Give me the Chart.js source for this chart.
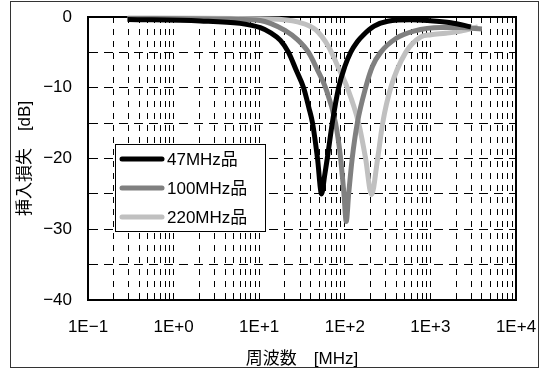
<!DOCTYPE html>
<html>
<head>
<meta charset="utf-8">
<title>挿入損失</title>
<script src="https://cdn.jsdelivr.net/npm/chart.js@4/dist/chart.umd.min.js"></script>
<style>
    body{margin:0;background:#fff;}
    #wrap{width:548px;height:370px;}
</style>
</head>
<body>
<div id="wrap"><canvas id="lossChart" width="548" height="370"></canvas></div>
<script>
// 数据 (从图上读的)
var seriesNames = ["47MHz品", "100MHz品", "220MHz品"];
var seriesColors = ["#000000", "#808080", "#c0c0c0"];

var freq47 = [0.29, 2.05, 6.0, 10.3, 13.5, 17.7, 22, 27, 33, 38, 42, 48, 53.5, 58, 62.4, 71.4, 84.6, 100, 117, 140, 166, 220, 317, 600, 933, 1734, 2972];
var loss47 = [-0.35, -0.55, -0.9, -1.5, -2.2, -3.3, -5, -7.5, -10, -12.8, -15, -20, -25, -22.5, -20, -15, -10, -7.0, -5, -3.5, -2.5, -1.3, -0.6, -0.4, -0.5, -0.8, -1.4];

var freq100 = [0.29, 4.6, 10.3, 13.5, 20, 28, 37.7, 48, 59.6, 78, 89.4, 97.7, 104, 111, 122, 140, 175, 210, 262, 400, 640, 1324, 2270, 4000];
var loss100 = [-0.2, -0.3, -0.5, -0.9, -1.9, -3.2, -5, -7.5, -10, -15, -20, -25, -28.9, -25, -20, -15, -10, -7, -5, -3, -2, -1.5, -1.5, -1.7];

var freq220 = [0.29, 13.5, 28, 45.5, 64.6, 84.6, 107, 145, 175, 205, 242, 277, 344, 515, 772, 1012, 1514, 2270, 3590];
var loss220 = [-0.15, -0.3, -0.7, -1.8, -4.2, -7.2, -10, -15, -20, -25.1, -20, -15, -10, -5, -2.8, -2.5, -2.3, -2.0, -1.4];

// 坐标轴
var xDecades = [0.1, 1, 10, 100, 1000, 10000];
var xTickLabels = ["1E\u22121", "1E+0", "1E+1", "1E+2", "1E+3", "1E+4"];
var yTickValues = [0, -10, -20, -30, -40];
var yTickLabels = ["0", "\u221210", "\u221220", "\u221230", "\u221240"];

var fontTick = {family: "'Liberation Sans', Arial, sans-serif", size: 17};
var fontTitle = {family: "'Liberation Sans', 'Noto Sans CJK JP', sans-serif", size: 17};

function toPoints(xs, ys){
    var arr = [];
    for (var i = 0; i < xs.length; i++) {
        arr.push({x: xs[i], y: ys[i]});
    }
    return arr;
}

var allFreq = [freq47, freq100, freq220];
var allLoss = [loss47, loss100, loss220];
var datasets = [];
for (var s = 0; s < seriesNames.length; s++) {
    datasets.push({
        label: seriesNames[s],
        data: toPoints(allFreq[s], allLoss[s]),
        borderColor: seriesColors[s],
        backgroundColor: seriesColors[s],
        borderWidth: 5,
        pointRadius: 0,
        fill: false,
        clip: false,
        cubicInterpolationMode: 'monotone'
    });
}

// 外框 + 绘图区边框 + 图例
var framePlugin = {
    id: 'frames',
    beforeDatasetsDraw: function(chart){
        var ctx = chart.ctx, a = chart.chartArea;
        ctx.save();
        ctx.strokeStyle = '#000';
        ctx.lineWidth = 2;
        ctx.strokeRect(a.left, a.top, a.right - a.left, a.bottom - a.top);
        ctx.restore();
    },
    afterDatasetsDraw: function(chart){
        var ctx = chart.ctx, a = chart.chartArea;
        var bx = a.left + 27, by = a.top + 127, bw = 150, bh = 87;
        ctx.save();
        ctx.fillStyle = '#fff';
        ctx.fillRect(bx, by, bw, bh);
        ctx.strokeStyle = '#000';
        ctx.lineWidth = 1;
        ctx.strokeRect(bx + 0.5, by + 0.5, bw, bh);
        ctx.font = "17px 'Liberation Sans', 'Noto Sans CJK JP', sans-serif";
        ctx.textBaseline = 'middle';
        ctx.lineCap = 'round';
        for (var i = 0; i < chart.data.datasets.length; i++) {
            var ds = chart.data.datasets[i];
            var ry = by + 15 + i * 29;
            ctx.strokeStyle = ds.borderColor;
            ctx.lineWidth = 5;
            ctx.beginPath();
            ctx.moveTo(bx + 7, ry);
            ctx.lineTo(bx + 47, ry);
            ctx.stroke();
            ctx.fillStyle = '#000';
            ctx.fillText(ds.label, bx + 52, ry + 1);
        }
        ctx.restore();
    },
    afterDraw: function(chart){
        var ctx = chart.ctx;
        ctx.save();
        ctx.strokeStyle = '#333';
        ctx.lineWidth = 1;
        ctx.strokeRect(10.5, 1.5, 528, 366);
        ctx.restore();
    }
};

var lossChart = new Chart(document.getElementById('lossChart'), {
    type: 'line',
    data: {datasets: datasets},
    plugins: [framePlugin],
    options: {
        responsive: false,
        animation: false,
        devicePixelRatio: 1,
        layout: {padding: {left: 0, right: 32, top: 17, bottom: 0}},
        plugins: {
            legend: {display: false},
            tooltip: {enabled: false}
        },
        scales: {
            x: {
                type: 'logarithmic',
                min: 0.1,
                max: 10000,
                afterBuildTicks: function(scale){
                    var t = [];
                    for (var d = 0; d < xDecades.length; d++) {
                        t.push({value: xDecades[d], major: true});
                        if (d < xDecades.length - 1) {
                            for (var m = 2; m <= 9; m++) {
                                t.push({value: +(xDecades[d] * m).toPrecision(3)});
                            }
                        }
                    }
                    scale.ticks = t;
                },
                afterFit: function(scale){
                    scale.height = 70;
                    scale.paddingLeft = 0;
                    scale.paddingRight = 0;
                },
                ticks: {
                    autoSkip: false,
                    maxRotation: 0,
                    padding: 17,
                    color: '#000',
                    font: fontTick,
                    callback: function(v){
                        var k = xDecades.indexOf(v);
                        return k >= 0 ? xTickLabels[k] : '';
                    }
                },
                grid: {color: '#000', lineWidth: 1, drawTicks: false},
                border: {display: true, color: '#000', width: 2, dash: [6, 6]},
                title: {
                    display: true,
                    text: '周波数\u3000[MHz]',
                    color: '#000',
                    font: fontTitle,
                    padding: {top: 16, bottom: 0}
                }
            },
            y: {
                type: 'linear',
                min: -40,
                max: 0,
                afterFit: function(scale){
                    scale.width = 88;
                    scale.paddingTop = 0;
                    scale.paddingBottom = 0;
                },
                ticks: {
                    stepSize: 5,
                    padding: 16,
                    color: '#000',
                    font: fontTick,
                    callback: function(v){
                        var k = yTickValues.indexOf(v);
                        return k >= 0 ? yTickLabels[k] : '';
                    }
                },
                grid: {color: '#000', lineWidth: 1, drawTicks: false},
                border: {display: true, color: '#000', width: 2, dash: [9, 6]},
                title: {
                    display: true,
                    text: '挿入損失\u3000[dB]',
                    color: '#000',
                    font: fontTitle,
                    padding: {top: 15, bottom: 0}
                }
            }
        }
    }
});
</script>
</body>
</html>
